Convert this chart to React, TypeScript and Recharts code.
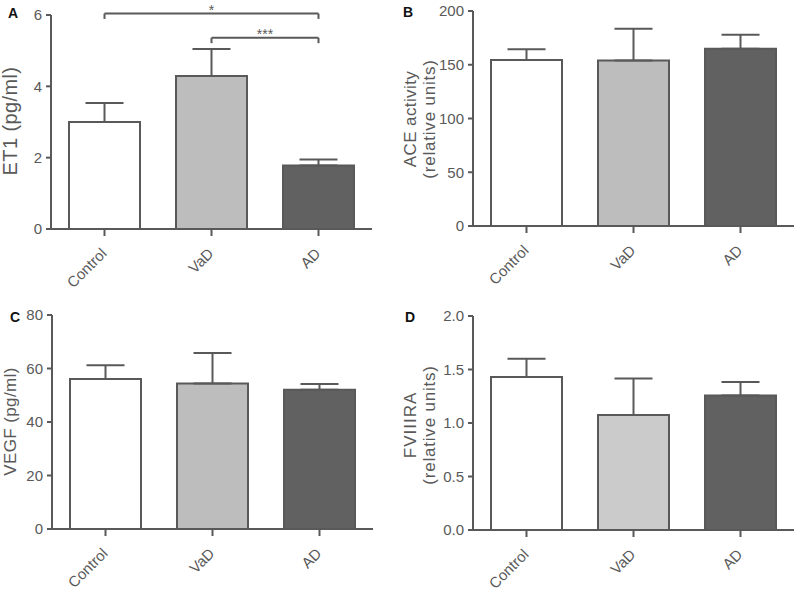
import React from 'react';
import { BarChart, Bar, XAxis, YAxis, ErrorBar, Cell, ReferenceLine, Label } from 'recharts';

const categories = ['Control', 'VaD', 'AD'];

const et1Mean = [3.0, 4.29, 1.78];
const et1Err = [0.53, 0.76, 0.17];
const et1Ticks = [0, 2, 4, 6];

const aceMean = [154.5, 154, 165];
const aceErr = [10, 29.5, 13];
const aceTicks = [0, 50, 100, 150, 200];

const vegfMean = [56.1, 54.4, 52.1];
const vegfErr = [5.1, 11.4, 2.1];
const vegfTicks = [0, 20, 40, 60, 80];

const fviiiMean = [1.43, 1.075, 1.258];
const fviiiErr = [0.17, 0.34, 0.125];
const fviiiTicks = [0, 0.5, 1.0, 1.5, 2.0];

const et1Brackets = [
  { from: 'Control', to: 'AD', y: 6.04, tip: 5.89, label: '*' },
  { from: 'VaD', to: 'AD', y: 5.36, tip: 5.21, label: '***' },
];

const fillsABC = ['#ffffff', '#bdbdbd', '#616161'];
const fillsD = ['#ffffff', '#cbcbcb', '#616161'];

const GREY = '#595959';
const FONT = '"Liberation Sans", Arial, sans-serif';

const build = (mean: number[], err: number[]) =>
  categories.map((name, i) => ({ name, mean: mean[i], err: [0, err[i]] }));

const RotTick = (props: any) => {
  const { x, y, payload } = props;
  return (
    <g transform={`translate(${x + 3},${y + 16.5})`}>
      <text x={0} y={0} textAnchor="end" transform="rotate(-45)" fontSize={15} fill={GREY} fontFamily={FONT}>
        {payload.value}
      </text>
    </g>
  );
};

type PanelProps = {
  left: number;
  top: number;
  letter: string;
  letterX: number;
  letterY: number;
  data: any[];
  domain: [number, number];
  ticks: number[];
  fmt?: (v: number) => string;
  fills: string[];
  plotLeft: number;
  plotRight: number;
  plotTop: number;
  plotBottom: number;
  labelLines: string[];
  labelXs: number[];
  labelY: number;
  labelSize: number;
  labelSpacing: number[];
  brackets?: typeof et1Brackets;
};

const Panel = (p: PanelProps) => {
  const W = 400;
  const H = 300;
  const xh = 60;
  const margin = { top: p.plotTop, right: W - p.plotRight, bottom: H - p.plotBottom - xh, left: 0 };
  const labelContent = () => (
    <g>
      {p.labelLines.map((t, i) => (
        <text
          key={i}
          x={p.labelXs[i]}
          y={p.labelY}
          transform={`rotate(-90, ${p.labelXs[i]}, ${p.labelY})`}
          textAnchor="middle"
          dominantBaseline="central"
          fontSize={p.labelSize}
          letterSpacing={p.labelSpacing[i]}
          fill={GREY}
          fontFamily={FONT}
        >
          {t}
        </text>
      ))}
    </g>
  );
  return (
    <div style={{ position: 'absolute', left: p.left, top: p.top, width: W, height: H }}>
      <BarChart width={W} height={H} data={p.data} margin={margin}>
        <XAxis
          dataKey="name"
          height={xh}
          interval={0}
          tickSize={7}
          tickMargin={2}
          axisLine={{ stroke: GREY, strokeWidth: 2 }}
          tickLine={{ stroke: GREY, strokeWidth: 2 }}
          tick={<RotTick />}
        />
        <YAxis
          width={p.plotLeft}
          domain={p.domain}
          ticks={p.ticks}
          allowDataOverflow
          tickSize={5}
          tickMargin={4}
          tickFormatter={p.fmt}
          axisLine={{ stroke: GREY, strokeWidth: 2 }}
          tickLine={{ stroke: GREY, strokeWidth: 2 }}
          tick={{ fontSize: 15, fill: GREY, fontFamily: FONT }}
        >
          <Label content={labelContent} />
        </YAxis>
        <Bar dataKey="mean" barSize={71} stroke={GREY} strokeWidth={2} isAnimationActive={false}>
          {p.data.map((d, i) => (
            <Cell key={d.name} fill={p.fills[i]} />
          ))}
          <ErrorBar dataKey="err" direction="y" width={19} stroke={GREY} strokeWidth={2} isAnimationActive={false} />
        </Bar>
        {(p.brackets || []).map((b, i) => (
          <ReferenceLine
            key={`h${i}`}
            segment={[{ x: b.from, y: b.y }, { x: b.to, y: b.y }]}
            stroke={GREY}
            strokeWidth={2}
            ifOverflow="visible"
            label={{ value: b.label, position: 'top', offset: -1, fill: GREY, fontSize: 14, fontFamily: FONT }}
          />
        ))}
        {(p.brackets || []).map((b, i) => (
          <ReferenceLine
            key={`l${i}`}
            segment={[{ x: b.from, y: b.y }, { x: b.from, y: b.tip }]}
            stroke={GREY}
            strokeWidth={2}
            ifOverflow="visible"
          />
        ))}
        {(p.brackets || []).map((b, i) => (
          <ReferenceLine
            key={`r${i}`}
            segment={[{ x: b.to, y: b.y }, { x: b.to, y: b.tip }]}
            stroke={GREY}
            strokeWidth={2}
            ifOverflow="visible"
          />
        ))}
      </BarChart>
      <div
        style={{
          position: 'absolute',
          left: p.letterX,
          top: p.letterY,
          fontFamily: FONT,
          fontWeight: 'bold',
          fontSize: 14,
          lineHeight: '14px',
          color: '#111',
        }}
      >
        {p.letter}
      </div>
    </div>
  );
};

export default function App() {
  return (
    <div style={{ position: 'absolute', left: 0, top: 0, width: 800, height: 593, background: '#fff' }}>
      <Panel
        left={0}
        top={0}
        letter="A"
        letterX={8}
        letterY={6}
        data={build(et1Mean, et1Err)}
        domain={[0, 6]}
        ticks={et1Ticks}
        fills={fillsABC}
        plotLeft={51}
        plotRight={372}
        plotTop={15}
        plotBottom={229}
        labelLines={['ET1 (pg/ml)']}
        labelXs={[9.5]}
        labelY={121}
        labelSize={20}
        labelSpacing={[0.4]}
        brackets={et1Brackets}
      />
      <Panel
        left={400}
        top={0}
        letter="B"
        letterX={3}
        letterY={5}
        data={build(aceMean, aceErr)}
        domain={[0, 200]}
        ticks={aceTicks}
        fills={fillsABC}
        plotLeft={73}
        plotRight={394}
        plotTop={11}
        plotBottom={226}
        labelLines={['ACE activity', '(relative units)']}
        labelXs={[10, 29]}
        labelY={119}
        labelSize={17}
        labelSpacing={[0.4, 0.8]}
      />
      <Panel
        left={0}
        top={300}
        letter="C"
        letterX={10}
        letterY={10}
        data={build(vegfMean, vegfErr)}
        domain={[0, 80]}
        ticks={vegfTicks}
        fills={fillsABC}
        plotLeft={52}
        plotRight={373}
        plotTop={15}
        plotBottom={229}
        labelLines={['VEGF (pg/ml)']}
        labelXs={[10.5]}
        labelY={121.5}
        labelSize={17}
        labelSpacing={[0.4]}
      />
      <Panel
        left={400}
        top={300}
        letter="D"
        letterX={5}
        letterY={10}
        data={build(fviiiMean, fviiiErr)}
        domain={[0, 2]}
        ticks={fviiiTicks}
        fmt={(v: number) => v.toFixed(1)}
        fills={fillsD}
        plotLeft={73}
        plotRight={394}
        plotTop={16}
        plotBottom={230}
        labelLines={['FVIIIRA', '(relative units)']}
        labelXs={[10, 29]}
        labelY={125}
        labelSize={17}
        labelSpacing={[1, 0.8]}
      />
    </div>
  );
}
